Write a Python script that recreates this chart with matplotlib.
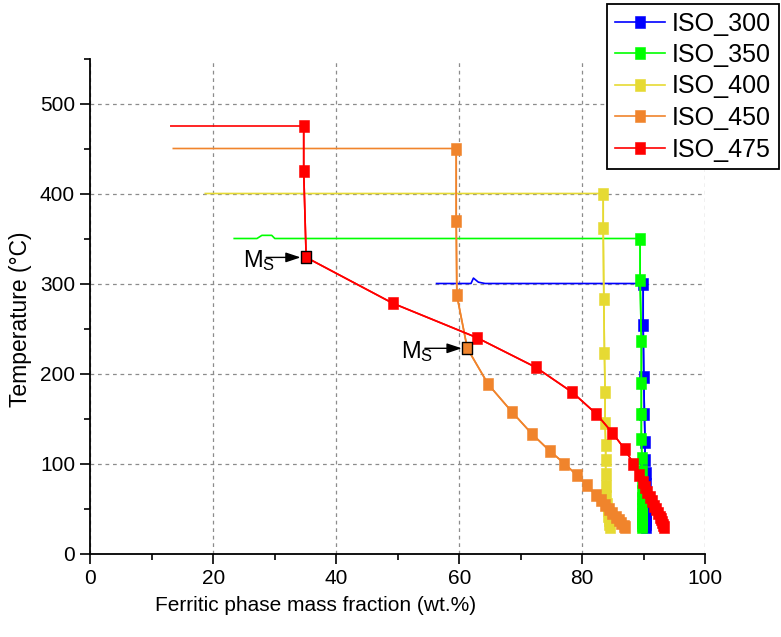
import matplotlib
matplotlib.use("Agg")

import matplotlib.pyplot as plt
from matplotlib.path import Path

# isothermal holds: flat part first, then the cooling part with markers
iso300_flat_x = [56.3, 61.9, 62.3, 63.1, 64.2, 89.9]
iso300_flat_y = [300, 300, 306, 301.5, 300, 300]
iso300_x = [89.9, 89.9, 90.0, 90.1, 90.2, 90.2, 90.3, 90.3, 90.3, 90.4, 90.4, 90.4, 90.4, 90.4, 90.4, 90.4]
iso300_y = [300, 254, 196, 155, 124, 104, 89, 77, 67, 59, 52, 46, 41, 37, 33, 30]

iso350_flat_x = [23.4, 27.1, 27.9, 29.5, 30.0, 89.4]
iso350_flat_y = [350, 350, 353.5, 353.5, 350, 350]
iso350_x = [89.4, 89.4, 89.6, 89.6, 89.6, 89.6, 89.7, 89.7, 89.7, 89.7, 89.7, 89.7, 89.7, 89.7, 89.7, 89.7, 89.7, 89.7]
iso350_y = [350, 304, 236, 189, 155, 127, 106, 92, 80, 70, 62, 55, 49, 44, 39, 35, 32, 29]

iso400_flat_x = [18.7, 83.4]
iso400_flat_y = [400, 400]
iso400_x = [83.4, 83.4, 83.5, 83.6, 83.7, 83.7, 83.8, 83.8, 83.8, 83.9, 83.9, 84.0, 84.1, 84.2, 84.3, 84.4, 84.5]
iso400_y = [400, 362, 283, 223, 179, 145, 121, 104, 88, 75, 64, 55, 48, 42, 37, 33, 30]

iso450_flat_x = [13.5, 59.5]
iso450_flat_y = [450, 450]
iso450_x = [59.5, 59.5, 59.6, 61.3, 64.7, 68.6, 71.8, 74.7, 77.1, 79.1, 80.7, 82.2, 83.0, 83.7, 84.3, 84.9, 85.4, 85.9, 86.3, 86.7, 86.9]
iso450_y = [450, 370, 287, 228, 188, 157, 133, 114, 100, 87, 76, 65, 59, 54, 49, 45, 41, 37, 34, 31, 29]

iso475_flat_x = [13.1, 34.7]
iso475_flat_y = [475, 475]
iso475_x = [34.7, 34.7, 35.1, 49.2, 62.8, 72.4, 78.4, 82.3, 84.9, 86.9, 88.3, 89.3, 89.8, 90.2, 90.6, 91.0, 91.4, 91.7, 92.0, 92.3, 92.6, 92.8, 93.0, 93.2, 93.3]
iso475_y = [475, 425, 329, 278, 240, 207, 179, 155, 134, 116, 100, 87, 80, 74, 68, 63, 58, 53, 49, 45, 41, 38, 35, 32, 30]

labels = ["ISO_300", "ISO_350", "ISO_400", "ISO_450", "ISO_475"]
colors = ["#0000FF", "#00FF00", "#E6DA33", "#F0842C", "#FF0000"]

# index of the martensite start point inside the red / orange series
ms_475 = 2
ms_450 = 3

plt.rcParams["font.family"] = ["Liberation Sans", "DejaVu Sans"]
plt.rcParams["mathtext.fontset"] = "custom"
plt.rcParams["mathtext.rm"] = "Liberation Sans"

# slightly narrow square, the source picture is squeezed sideways
sq = Path([(-0.43, -0.5), (0.43, -0.5), (0.43, 0.5), (-0.43, 0.5), (-0.43, -0.5)],
          [Path.MOVETO, Path.LINETO, Path.LINETO, Path.LINETO, Path.CLOSEPOLY])

fig = plt.figure(figsize=(7.81, 6.37), dpi=100)
ax = fig.add_axes([90.3 / 781, 1 - 553.5 / 637, 615 / 781, 495 / 637])

series = [
    (iso300_flat_x, iso300_flat_y, iso300_x, iso300_y),
    (iso350_flat_x, iso350_flat_y, iso350_x, iso350_y),
    (iso400_flat_x, iso400_flat_y, iso400_x, iso400_y),
    (iso450_flat_x, iso450_flat_y, iso450_x, iso450_y),
    (iso475_flat_x, iso475_flat_y, iso475_x, iso475_y),
]
handles = []
for (fx, fy, mx, my), lab, c in zip(series, labels, colors):
    ax.plot(fx + mx, fy + my, color=c, lw=1.2, zorder=3)
    h, = ax.plot(mx, my, color=c, lw=1.2, marker=sq, ms=8, mec=c, mew=0.4,
                 label=lab, zorder=3)
    handles.append(h)

# Ms points with black edge
ax.plot(iso475_x[ms_475], iso475_y[ms_475], marker=sq, ms=8, mfc=colors[4],
        mec="black", mew=1.0, ls="none", zorder=5)
ax.plot(iso450_x[ms_450], iso450_y[ms_450], marker=sq, ms=8, mfc=colors[3],
        mec="black", mew=1.0, ls="none", zorder=5)

arrow = dict(arrowstyle="-|>,head_length=0.9,head_width=0.3", color="black",
             lw=1.0, shrinkA=0, shrinkB=0)
ax.annotate("", xy=(iso475_x[ms_475] - 0.9, iso475_y[ms_475]),
            xytext=(28.6, iso475_y[ms_475]), arrowprops=arrow, zorder=6)
ax.annotate("", xy=(iso450_x[ms_450] - 0.9, iso450_y[ms_450]),
            xytext=(54.4, iso450_y[ms_450]), arrowprops=arrow, zorder=6)
ax.text(24.8, 318.5, r"$\mathregular{M_S}$", fontsize=17, ha="left", va="baseline")
ax.text(50.6, 217, r"$\mathregular{M_S}$", fontsize=17, ha="left", va="baseline")

ax.set_xlim(0, 100)
ax.set_ylim(0, 550)
ax.set_xticks(range(0, 101, 20))
ax.set_xticks(range(10, 100, 20), minor=True)
ax.set_yticks(range(0, 501, 100))
ax.set_yticks(range(50, 551, 100), minor=True)
ax.tick_params(which="major", direction="out", length=7, width=1.2, labelsize=15, pad=4)
ax.tick_params(which="minor", direction="out", length=4, width=1.2)
for s in ["top", "right"]:
    ax.spines[s].set_visible(False)
for s in ["left", "bottom"]:
    ax.spines[s].set_linewidth(1.3)

ax.grid(True, which="major", color="#8c8c8c", lw=0.9, ls=(0, (3, 3)))
ax.set_axisbelow(True)

ax.set_xlabel("Ferritic phase mass fraction (wt.%)", fontsize=15, va="center")
ax.xaxis.set_label_coords(0.367, -0.106)
ax.set_ylabel("Temperature (°C)", fontsize=16.5, va="center")
ax.yaxis.set_label_coords(-0.114, 0.474)

leg = fig.legend(handles=handles, loc="upper left",
                 bbox_to_anchor=(607 / 781, 1 - 4 / 637), borderaxespad=0,
                 fontsize=18, frameon=True, fancybox=False, framealpha=1,
                 edgecolor="black", borderpad=0.3, handlelength=2.0,
                 handletextpad=0.3, labelspacing=0.3)
leg.get_frame().set_linewidth(1.3)

fig.savefig("out.png", dpi=100)
